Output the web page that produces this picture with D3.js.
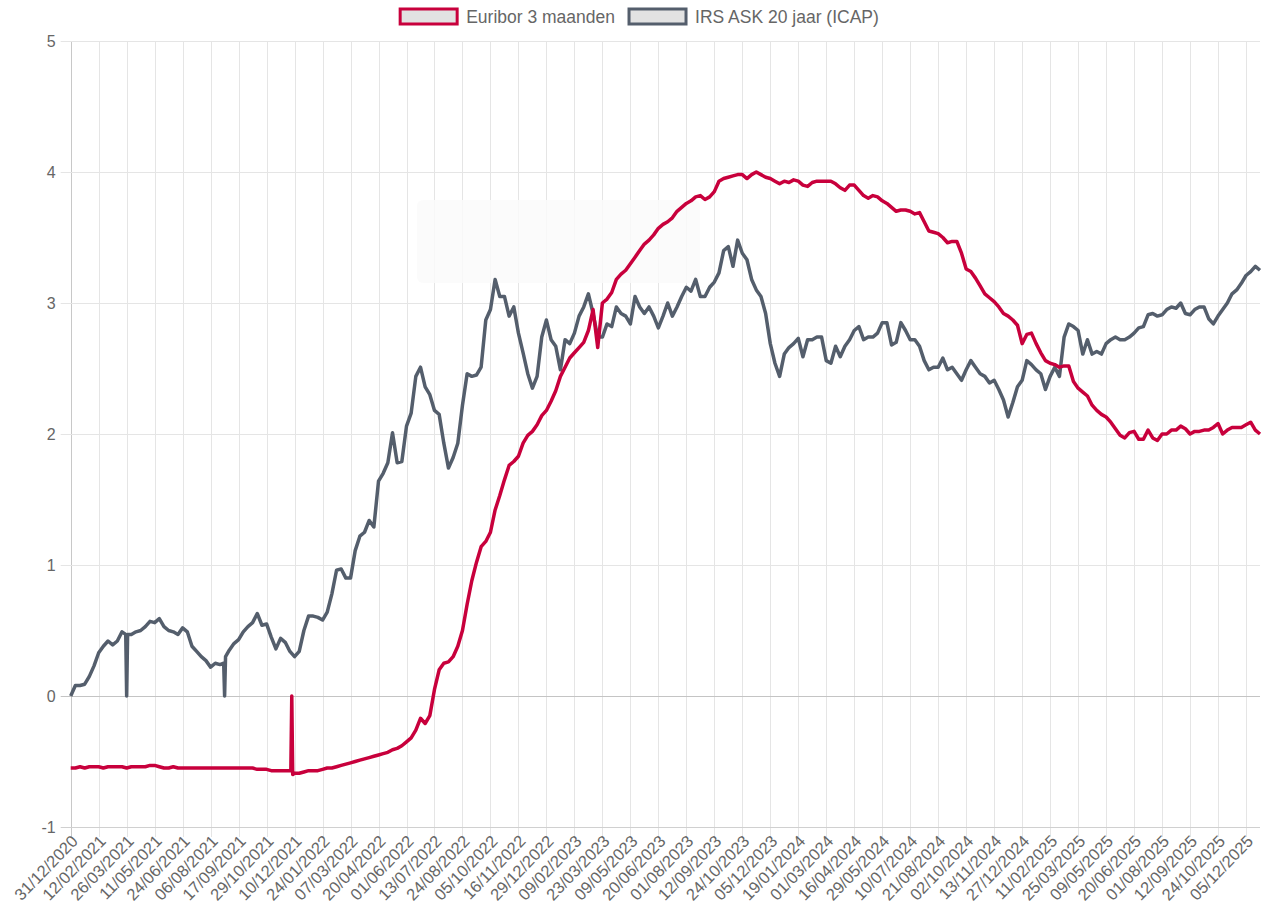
<!DOCTYPE html>
<html>
<head>
<meta charset="utf-8">
<script src="https://cdn.jsdelivr.net/npm/d3@7"></script>
<style>
  html, body { margin: 0; padding: 0; background: #fff; }
  svg { display: block; font-family: "Liberation Sans", Arial, Helvetica, sans-serif; }
</style>
</head>
<body>
<div id="chart"></div>
<script>
// x labels, one every 30 business days
var tickLabels = ["31/12/2020","12/02/2021","26/03/2021","11/05/2021","24/06/2021","06/08/2021","17/09/2021",
  "29/10/2021","10/12/2021","24/01/2022","07/03/2022","20/04/2022","01/06/2022","13/07/2022","24/08/2022",
  "05/10/2022","16/11/2022","29/12/2022","09/02/2023","23/03/2023","09/05/2023","20/06/2023","01/08/2023",
  "12/09/2023","24/10/2023","05/12/2023","19/01/2024","01/03/2024","16/04/2024","29/05/2024","10/07/2024",
  "21/08/2024","02/10/2024","13/11/2024","27/12/2024","11/02/2025","25/03/2025","09/05/2025","20/06/2025",
  "01/08/2025","12/09/2025","24/10/2025","05/12/2025"];
var yTicks = [-1, 0, 1, 2, 3, 4, 5];

// weekly readings (every 5 business days), starting 31/12/2020
var euribor = [
  -0.55,-0.55,-0.54,-0.55,-0.54,-0.54, -0.54,-0.55,-0.54,-0.54,-0.54,-0.54,
  -0.55,-0.54,-0.54,-0.54,-0.54,-0.53, -0.53,-0.54,-0.55,-0.55,-0.54,-0.55,
  -0.55,-0.55,-0.55,-0.55,-0.55,-0.55, -0.55,-0.55,-0.55,-0.55,-0.55,-0.55,
  -0.55,-0.55,-0.55,-0.55,-0.56,-0.56, -0.56,-0.57,-0.57,-0.57,-0.57,-0.57,
  -0.59,-0.59,-0.58,-0.57,-0.57,-0.57, -0.56,-0.55,-0.55,-0.54,-0.53,-0.52,
  -0.51,-0.50,-0.49,-0.48,-0.47,-0.46, -0.45,-0.44,-0.43,-0.41,-0.40,-0.38,
  -0.35,-0.32,-0.26,-0.17,-0.21,-0.15, 0.05,0.20,0.25,0.26,0.30,0.38,
  0.50,0.70,0.88,1.02,1.14,1.18, 1.25,1.42,1.53,1.65,1.76,1.79,
  1.83,1.93,1.99,2.02,2.07,2.14, 2.18,2.25,2.33,2.44,2.51,2.58,
  2.62,2.66,2.70,2.79,2.95,2.66, 3.00,3.03,3.08,3.18,3.22,3.25,
  3.30,3.35,3.40,3.45,3.48,3.52, 3.57,3.60,3.62,3.65,3.70,3.73,
  3.76,3.78,3.81,3.82,3.79,3.81, 3.85,3.93,3.95,3.96,3.97,3.98,
  3.98,3.95,3.98,4.00,3.98,3.96, 3.95,3.93,3.91,3.93,3.92,3.94,
  3.93,3.90,3.89,3.92,3.93,3.93, 3.93,3.93,3.91,3.88,3.86,3.90,
  3.90,3.86,3.82,3.80,3.82,3.81, 3.78,3.76,3.73,3.70,3.71,3.71,
  3.70,3.68,3.69,3.62,3.55,3.54, 3.53,3.50,3.46,3.47,3.47,3.38,
  3.26,3.24,3.19,3.13,3.07,3.04, 3.01,2.97,2.92,2.90,2.87,2.83,
  2.69,2.76,2.77,2.69,2.62,2.56, 2.54,2.53,2.51,2.52,2.52,2.40,
  2.35,2.32,2.29,2.22,2.18,2.15, 2.13,2.09,2.04,1.99,1.97,2.01,
  2.02,1.96,1.96,2.03,1.97,1.95, 2.00,2.00,2.03,2.03,2.06,2.04,
  2.00,2.02,2.02,2.03,2.03,2.05, 2.08,2.00,2.03,2.05,2.05,2.05,
  2.07,2.09,2.03,2.00
];
var irs = [
  0.00,0.08,0.08,0.09,0.15,0.23, 0.33,0.38,0.42,0.39,0.42,0.49,
  0.47,0.47,0.49,0.50,0.53,0.57, 0.56,0.59,0.53,0.50,0.49,0.47,
  0.52,0.49,0.38,0.34,0.30,0.27, 0.22,0.25,0.24,0.27,0.35,0.40,
  0.43,0.49,0.53,0.56,0.63,0.54, 0.55,0.45,0.36,0.44,0.41,0.34,
  0.30,0.34,0.50,0.61,0.61,0.60, 0.58,0.64,0.78,0.96,0.97,0.90,
  0.90,1.11,1.22,1.25,1.34,1.29, 1.64,1.70,1.78,2.01,1.78,1.79,
  2.06,2.16,2.44,2.51,2.36,2.30, 2.18,2.15,1.93,1.74,1.82,1.93,
  2.22,2.46,2.44,2.45,2.51,2.87, 2.95,3.18,3.05,3.05,2.90,2.97,
  2.77,2.62,2.46,2.35,2.44,2.74, 2.87,2.72,2.67,2.49,2.72,2.69,
  2.77,2.90,2.97,3.07,2.92,2.74, 2.74,2.84,2.82,2.97,2.92,2.90,
  2.84,3.05,2.97,2.92,2.97,2.90, 2.81,2.90,3.00,2.90,2.97,3.05,
  3.12,3.09,3.18,3.05,3.05,3.12, 3.16,3.23,3.40,3.43,3.28,3.48,
  3.38,3.33,3.18,3.10,3.05,2.92, 2.69,2.54,2.44,2.61,2.66,2.69,
  2.73,2.59,2.72,2.72,2.74,2.74, 2.56,2.54,2.67,2.59,2.67,2.72,
  2.79,2.82,2.72,2.74,2.74,2.77, 2.85,2.85,2.68,2.70,2.85,2.79,
  2.72,2.72,2.67,2.56,2.49,2.51, 2.51,2.58,2.49,2.51,2.46,2.41,
  2.49,2.56,2.51,2.46,2.44,2.39, 2.41,2.34,2.26,2.13,2.24,2.36,
  2.41,2.56,2.53,2.49,2.46,2.34, 2.44,2.51,2.44,2.74,2.84,2.82,
  2.79,2.61,2.72,2.61,2.63,2.61, 2.69,2.72,2.74,2.72,2.72,2.74,
  2.77,2.81,2.82,2.91,2.92,2.90, 2.91,2.95,2.97,2.96,3.00,2.92,
  2.91,2.95,2.97,2.97,2.88,2.84, 2.90,2.95,3.00,3.07,3.10,3.15,
  3.21,3.24,3.28,3.25
];
// single-day outliers: business day, value the day before, that day, the day after
var euriborSpikes = [[237, -0.57, 0.00, -0.60]];
var irsSpikes = [[60, 0.47, 0.00, 0.47], [165, 0.25, 0.00, 0.30]];

var seriesNames = ["Euribor 3 maanden", "IRS ASK 20 jaar (ICAP)"];
var seriesColors = ["#c8003c", "#545e6c"];

var width = 1269, height = 920;
var margin = {top: 41, right: 9, bottom: 93, left: 70.7};
var step = 5, lastDay = 1275;

var svg = d3.select("#chart").append("svg")
    .attr("width", width)
    .attr("height", height);

var x = d3.scaleLinear().domain([0, lastDay]).range([margin.left, width - margin.right]);
var y = d3.scaleLinear().domain([-1, 5]).range([height - margin.bottom, margin.top]);

// grid
var grid = svg.append("g");
grid.selectAll(".vline")
    .data(tickLabels)
    .enter().append("line")
    .attr("x1", function(d, i) { return Math.round(x(i * 30)) + 0.5; })
    .attr("x2", function(d, i) { return Math.round(x(i * 30)) + 0.5; })
    .attr("y1", margin.top)
    .attr("y2", height - margin.bottom + 10)
    .attr("stroke", function(d, i) { return i == 0 ? "#c8c8c8" : "#e5e5e5"; })
    .attr("stroke-width", 1);
grid.selectAll(".hline")
    .data(yTicks)
    .enter().append("line")
    .attr("x1", margin.left - 10)
    .attr("x2", width - margin.right)
    .attr("y1", function(d) { return Math.round(y(d)) + 0.5; })
    .attr("y2", function(d) { return Math.round(y(d)) + 0.5; })
    .attr("stroke", function(d) { return d == 0 ? "#c4c4c4" : (d == -1 ? "#d0d0d0" : "#e5e5e5"); })
    .attr("stroke-width", 1);

// faded tooltip left on the canvas
svg.append("rect")
    .attr("x", 417).attr("y", 200)
    .attr("width", 283).attr("height", 83)
    .attr("rx", 6)
    .attr("fill", "#fafafa")
    .attr("opacity", 0.85);

// y tick labels
svg.selectAll(".ylab")
    .data(yTicks)
    .enter().append("text")
    .attr("x", margin.left - 15)
    .attr("y", function(d) { return y(d); })
    .attr("dy", "0.35em")
    .attr("text-anchor", "end")
    .attr("fill", "#666")
    .style("font-size", "16px")
    .text(function(d) { return d; });

// x tick labels
svg.selectAll(".xlab")
    .data(tickLabels)
    .enter().append("text")
    .attr("transform", function(d, i) {
        return "translate(" + (x(i * 30) + 4) + "," + (height - margin.bottom + 11) + ") rotate(-46)";
    })
    .attr("text-anchor", "end")
    .attr("dy", "0.35em")
    .attr("fill", "#666")
    .style("font-size", "16.5px")
    .text(function(d) { return d; });

// build points from weekly readings plus the one-day outliers
function buildPoints(values, spikes) {
    var pts = [];
    values.forEach(function(v, i) {
        var day = i * step;
        var near = spikes.some(function(s) { return Math.abs(s[0] - day) <= 1; });
        if (!near) pts.push([day, v]);
    });
    spikes.forEach(function(s) {
        pts.push([s[0] - 1, s[1]], [s[0], s[2]], [s[0] + 1, s[3]]);
    });
    pts.sort(function(a, b) { return a[0] - b[0]; });
    return pts;
}

var line = d3.line()
    .x(function(d) { return x(d[0]); })
    .y(function(d) { return y(d[1]); });

var series = [buildPoints(irs, irsSpikes), buildPoints(euribor, euriborSpikes)];
var colors = [seriesColors[1], seriesColors[0]];

svg.selectAll(".series")
    .data(series)
    .enter().append("path")
    .attr("d", line)
    .attr("fill", "none")
    .attr("stroke", function(d, i) { return colors[i]; })
    .attr("stroke-width", 3.5)
    .attr("stroke-linejoin", "round");

// legend
var legend = svg.append("g");
var items = legend.selectAll("g")
    .data(seriesNames)
    .enter().append("g");
items.append("rect")
    .attr("y", 9)
    .attr("width", 57)
    .attr("height", 15)
    .attr("fill", "#e2e2e2")
    .attr("stroke", function(d, i) { return seriesColors[i]; })
    .attr("stroke-width", 3);
items.append("text")
    .attr("x", 66)
    .attr("y", 16.5)
    .attr("dy", "0.35em")
    .attr("fill", "#666")
    .style("font-size", "17.5px")
    .text(function(d) { return d; });

var offsets = [], total = 0;
items.each(function() {
    var w = 66 + this.querySelector("text").getComputedTextLength();
    offsets.push(total);
    total += w + 14;
});
total -= 14;
var startX = 639.5 - total / 2;
items.attr("transform", function(d, i) { return "translate(" + (startX + offsets[i]) + ",0)"; });
</script>
</body>
</html>
